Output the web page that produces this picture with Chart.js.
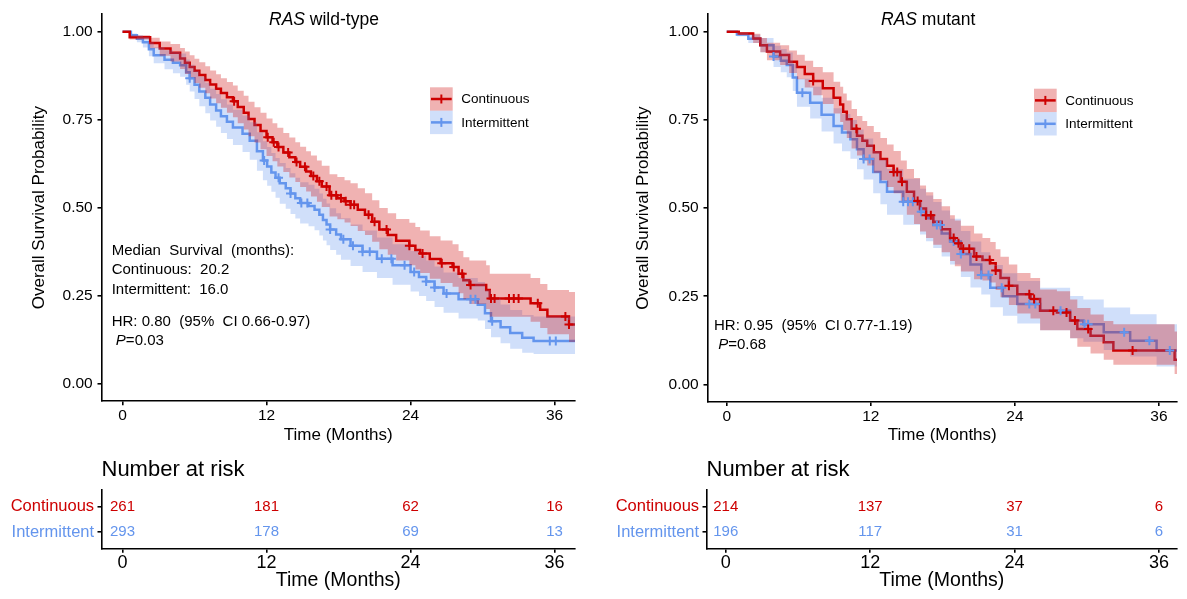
<!DOCTYPE html>
<html>
<head>
<meta charset="utf-8">
<script src="https://cdn.jsdelivr.net/npm/chart.js@4.4.1/dist/chart.umd.min.js"></script>
<style>
  body { margin: 0; background: #fff; }
  #wrap { position: relative; width: 1187px; height: 599px; }
  #wrap canvas { position: absolute; left: 0; top: 0; }
</style>
</head>
<body>
<div id="wrap">
  <canvas id="kmWild" width="1187" height="599"></canvas>
  <canvas id="kmMut" width="1187" height="599"></canvas>
  <canvas id="riskWild" width="1187" height="599"></canvas>
  <canvas id="riskMut" width="1187" height="599"></canvas>
</div>
<script>
const RED = '#CD0000';
const BLUE = '#6495ED';
const RED_BAND = 'rgba(205,0,0,0.3)';
const BLUE_BAND = 'rgba(100,149,237,0.3)';
const FONT = "'Liberation Sans', Arial, Helvetica, sans-serif";

const groups = ['Continuous', 'Intermittent'];
const timeTicks = [0, 12, 24, 36];
const survTicks = [0, 0.25, 0.5, 0.75, 1];
const survTickLabels = ['0.00', '0.25', '0.50', '0.75', '1.00'];
const riskTimes = [0, 12, 24, 36];

// ---- RAS wild-type, Continuous
const wtContTime  = [0, 0.6, 2.3, 3.1, 4.0, 4.8, 5.2, 5.6, 6.0, 6.4, 6.9, 7.3, 7.8, 8.2, 8.7, 9.2, 9.6, 10.1, 10.5, 11.0, 11.5, 12.0, 12.5, 12.9, 13.4, 13.9, 14.4, 14.8, 15.3, 15.7, 16.2, 16.6, 17.25, 17.9, 18.5, 19.0, 19.6, 20.2, 20.8, 21.4, 22.1, 22.8, 23.9, 24.4, 24.8, 25.6, 26.5, 27.5, 28.0, 28.4, 28.9, 30.3, 30.6, 34.0, 34.8, 35.4, 37.2, 37.7];
const wtContSurv  = [1.000, 0.984, 0.968, 0.952, 0.940, 0.924, 0.912, 0.900, 0.889, 0.877, 0.863, 0.850, 0.838, 0.826, 0.814, 0.802, 0.786, 0.770, 0.752, 0.735, 0.718, 0.700, 0.686, 0.672, 0.657, 0.643, 0.630, 0.616, 0.603, 0.590, 0.575, 0.560, 0.535, 0.527, 0.518, 0.508, 0.494, 0.480, 0.460, 0.438, 0.422, 0.406, 0.392, 0.380, 0.370, 0.354, 0.342, 0.331, 0.312, 0.294, 0.280, 0.266, 0.242, 0.228, 0.210, 0.191, 0.168, 0.168];
const wtContUpper = [1.000, 0.990, 0.983, 0.972, 0.965, 0.954, 0.944, 0.933, 0.923, 0.913, 0.902, 0.890, 0.879, 0.868, 0.857, 0.847, 0.832, 0.818, 0.801, 0.785, 0.770, 0.753, 0.740, 0.727, 0.712, 0.699, 0.686, 0.673, 0.660, 0.648, 0.634, 0.619, 0.595, 0.587, 0.578, 0.569, 0.555, 0.541, 0.521, 0.499, 0.484, 0.468, 0.457, 0.445, 0.435, 0.419, 0.407, 0.396, 0.377, 0.359, 0.350, 0.336, 0.312, 0.300, 0.283, 0.266, 0.260, 0.260];
const wtContLower = [1.000, 0.978, 0.953, 0.932, 0.915, 0.894, 0.880, 0.867, 0.854, 0.841, 0.825, 0.810, 0.797, 0.784, 0.770, 0.757, 0.740, 0.722, 0.703, 0.685, 0.666, 0.647, 0.632, 0.617, 0.601, 0.586, 0.573, 0.559, 0.546, 0.532, 0.517, 0.502, 0.475, 0.467, 0.458, 0.448, 0.434, 0.422, 0.403, 0.382, 0.366, 0.350, 0.336, 0.324, 0.314, 0.298, 0.286, 0.275, 0.257, 0.240, 0.226, 0.212, 0.190, 0.176, 0.158, 0.140, 0.118, 0.118];
const wtContCensor = [9.3, 12.1, 12.6, 13.0, 13.8, 14.5, 15.2, 15.9, 16.4, 17.0, 17.4, 17.8, 18.2, 18.6, 19.0, 19.3, 20.5, 21.0, 22.0, 23.9, 25.0, 26.6, 27.6, 28.3, 29.0, 30.7, 31.0, 32.2, 32.6, 33.0, 34.6, 36.9, 37.2];

// ---- RAS wild-type, Intermittent
const wtIntTime  = [0, 0.7, 1.2, 1.7, 2.2, 2.6, 3.5, 4.2, 4.8, 5.3, 5.6, 6.0, 6.4, 6.9, 7.3, 7.8, 8.2, 8.7, 9.2, 10.0, 10.6, 11.2, 11.7, 12.05, 12.4, 12.75, 13.1, 13.6, 14.0, 14.4, 14.8, 15.5, 16.0, 16.4, 16.7, 17.0, 17.3, 17.8, 18.2, 19.0, 20.0, 21.2, 22.5, 24.0, 24.7, 25.3, 26.0, 26.75, 28.0, 29.6, 30.2, 30.7, 31.5, 32.3, 33.3, 34.25, 37.7];
const wtIntSurv  = [1.000, 0.990, 0.980, 0.970, 0.950, 0.933, 0.920, 0.912, 0.905, 0.885, 0.868, 0.849, 0.830, 0.812, 0.793, 0.776, 0.760, 0.744, 0.728, 0.710, 0.690, 0.660, 0.634, 0.617, 0.600, 0.585, 0.569, 0.555, 0.540, 0.527, 0.513, 0.505, 0.494, 0.480, 0.465, 0.452, 0.438, 0.424, 0.410, 0.392, 0.375, 0.355, 0.336, 0.317, 0.303, 0.290, 0.273, 0.256, 0.240, 0.224, 0.200, 0.177, 0.160, 0.144, 0.130, 0.121, 0.121];
const wtIntUpper = [1.000, 0.995, 0.990, 0.985, 0.970, 0.956, 0.947, 0.942, 0.938, 0.921, 0.906, 0.889, 0.872, 0.855, 0.838, 0.823, 0.808, 0.793, 0.778, 0.762, 0.743, 0.714, 0.689, 0.672, 0.655, 0.641, 0.627, 0.613, 0.598, 0.585, 0.572, 0.565, 0.554, 0.540, 0.525, 0.512, 0.498, 0.484, 0.470, 0.452, 0.435, 0.415, 0.396, 0.377, 0.363, 0.350, 0.333, 0.316, 0.300, 0.289, 0.265, 0.242, 0.225, 0.209, 0.195, 0.191, 0.191];
const wtIntLower = [1.000, 0.985, 0.970, 0.955, 0.930, 0.910, 0.893, 0.882, 0.872, 0.849, 0.830, 0.809, 0.788, 0.768, 0.748, 0.730, 0.712, 0.695, 0.678, 0.658, 0.636, 0.605, 0.578, 0.562, 0.545, 0.528, 0.511, 0.497, 0.482, 0.469, 0.455, 0.447, 0.436, 0.421, 0.407, 0.393, 0.380, 0.366, 0.352, 0.334, 0.317, 0.300, 0.281, 0.262, 0.249, 0.235, 0.218, 0.201, 0.185, 0.179, 0.155, 0.132, 0.115, 0.099, 0.088, 0.084, 0.084];
const wtIntCensor = [5.6, 11.8, 13.0, 14.0, 14.9, 15.4, 17.3, 18.4, 19.2, 20.0, 20.6, 21.6, 22.4, 23.5, 24.3, 25.3, 26.0, 27.0, 29.0, 29.4, 30.8, 35.6, 36.1];

// ---- RAS mutant, Continuous
const mtContTime  = [0, 1.0, 2.2, 2.8, 3.35, 4.45, 5.2, 5.85, 6.5, 7.2, 8.0, 8.9, 9.45, 9.7, 10.0, 10.4, 10.85, 11.3, 11.7, 12.25, 12.8, 13.35, 13.9, 14.5, 15.0, 15.6, 16.1, 16.6, 17.2, 17.9, 18.6, 19.0, 19.5, 20.6, 21.3, 21.95, 22.4, 22.8, 23.5, 24.2, 25.3, 26.1, 27.5, 28.6, 29.2, 30.3, 31.4, 32.2, 37.3, 37.5];
const mtContSurv  = [1.000, 0.995, 0.981, 0.962, 0.944, 0.934, 0.915, 0.900, 0.880, 0.860, 0.840, 0.813, 0.794, 0.773, 0.752, 0.725, 0.705, 0.691, 0.677, 0.658, 0.639, 0.620, 0.602, 0.575, 0.546, 0.520, 0.499, 0.480, 0.461, 0.440, 0.415, 0.400, 0.385, 0.363, 0.353, 0.344, 0.323, 0.302, 0.280, 0.256, 0.242, 0.209, 0.204, 0.181, 0.157, 0.138, 0.120, 0.096, 0.070, 0.070];
const mtContUpper = [1.000, 0.999, 0.994, 0.982, 0.969, 0.962, 0.947, 0.935, 0.918, 0.900, 0.885, 0.858, 0.844, 0.825, 0.805, 0.781, 0.761, 0.747, 0.733, 0.716, 0.699, 0.680, 0.662, 0.635, 0.611, 0.585, 0.564, 0.545, 0.526, 0.505, 0.480, 0.465, 0.450, 0.428, 0.415, 0.404, 0.383, 0.362, 0.340, 0.316, 0.302, 0.269, 0.264, 0.241, 0.217, 0.198, 0.180, 0.171, 0.150, 0.150];
const mtContLower = [1.000, 0.991, 0.968, 0.942, 0.919, 0.906, 0.883, 0.865, 0.842, 0.820, 0.795, 0.768, 0.744, 0.721, 0.699, 0.669, 0.649, 0.635, 0.621, 0.600, 0.579, 0.560, 0.542, 0.515, 0.481, 0.455, 0.434, 0.415, 0.396, 0.375, 0.350, 0.335, 0.320, 0.298, 0.295, 0.289, 0.268, 0.247, 0.225, 0.201, 0.187, 0.154, 0.154, 0.131, 0.107, 0.088, 0.070, 0.056, 0.030, 0.030];
const mtContCensor = [7.2, 10.8, 13.9, 14.2, 14.6, 15.9, 16.6, 17.0, 18.9, 19.3, 19.7, 20.2, 20.8, 21.9, 22.4, 23.5, 25.2, 25.6, 27.2, 28.3, 29.0, 30.1, 33.8];

// ---- RAS mutant, Intermittent
const mtIntTime  = [0, 0.85, 1.8, 2.8, 3.9, 4.5, 5.0, 5.5, 5.85, 6.95, 7.9, 8.9, 9.6, 10.3, 10.85, 11.4, 12.2, 12.8, 13.35, 14.7, 16.1, 16.6, 17.2, 17.9, 18.6, 19.5, 20.3, 21.2, 21.95, 23.0, 24.2, 26.1, 28.6, 29.7, 31.4, 33.6, 35.8, 37.5];
const mtIntSurv  = [1.000, 0.992, 0.980, 0.962, 0.930, 0.918, 0.906, 0.870, 0.827, 0.799, 0.765, 0.733, 0.714, 0.695, 0.667, 0.639, 0.602, 0.574, 0.546, 0.518, 0.490, 0.471, 0.452, 0.428, 0.405, 0.370, 0.340, 0.310, 0.274, 0.250, 0.228, 0.209, 0.181, 0.171, 0.148, 0.124, 0.096, 0.096];
const mtIntUpper = [1.000, 0.997, 0.992, 0.982, 0.960, 0.951, 0.941, 0.908, 0.867, 0.844, 0.813, 0.783, 0.767, 0.750, 0.723, 0.697, 0.662, 0.637, 0.611, 0.583, 0.555, 0.536, 0.517, 0.493, 0.470, 0.435, 0.405, 0.375, 0.339, 0.315, 0.293, 0.274, 0.251, 0.241, 0.218, 0.199, 0.171, 0.171];
const mtIntLower = [1.000, 0.987, 0.968, 0.942, 0.900, 0.885, 0.871, 0.832, 0.787, 0.754, 0.717, 0.683, 0.661, 0.640, 0.610, 0.581, 0.542, 0.511, 0.481, 0.453, 0.425, 0.406, 0.387, 0.363, 0.340, 0.305, 0.275, 0.255, 0.219, 0.195, 0.173, 0.154, 0.131, 0.121, 0.098, 0.079, 0.051, 0.051];
const mtIntCensor = [3.9, 6.3, 11.4, 11.9, 14.7, 15.1, 15.5, 16.2, 17.5, 17.8, 18.9, 19.5, 21.2, 21.8, 22.9, 25.2, 25.7, 27.8, 29.8, 30.1, 33.1, 35.2, 36.9];

// ---- Number at risk
const wtRiskCont = [261, 181, 62, 16];
const wtRiskInt  = [293, 178, 69, 13];
const mtRiskCont = [214, 137, 37, 6];
const mtRiskInt  = [196, 117, 31, 6];

function pts(xs, ys) { return xs.map((x, i) => ({ x: x, y: ys[i] })); }
function survAt(xs, ys, t) {
  let v = ys[0];
  for (let i = 0; i < xs.length; i++) if (xs[i] <= t) v = ys[i];
  return v;
}
function censorPts(times, xs, ys) { return times.map(t => ({ x: t, y: survAt(xs, ys, t) })); }

function font(size, italic) { return (italic ? 'italic ' : '') + size + 'px ' + FONT; }
function drawRuns(ctx, runs, x, y, size) {
  runs.forEach(r => {
    ctx.font = font(size, r.it);
    ctx.fillText(r.t, x, y);
    x += ctx.measureText(r.t).width;
  });
}

function axisCommon(min, max, tickVals, labels, tickFont, tickPad) {
  return {
    type: 'linear', min: min, max: max,
    afterBuildTicks: s => { s.ticks = tickVals.map(v => ({ value: v })); },
    ticks: {
      autoSkip: false, maxRotation: 0, padding: tickPad, color: '#000',
      font: { family: FONT, size: tickFont },
      callback: (v) => labels[tickVals.indexOf(v)]
    },
    grid: { drawOnChartArea: false, drawTicks: true, tickLength: 4, color: '#000', lineWidth: 1.6 },
    border: { display: true, color: '#000', width: 1.6 }
  };
}

function kmChart(id, p) {
  const c = p.cont, q = p.inter;
  const line = (data, color) => ({ data: data, borderColor: color, borderWidth: 2.5, stepped: true, pointRadius: 0, fill: false, order: 3 });
  const band = (data, color, fill) => ({ data: data, borderColor: 'rgba(0,0,0,0)', borderWidth: 0, backgroundColor: color, stepped: true, pointRadius: 0, fill: fill, order: 2 });
  const cens = (data, color) => ({ data: data, showLine: false, pointStyle: 'cross', pointRadius: 4.5, pointBorderWidth: 2, borderColor: color, backgroundColor: color, order: 1 });

  const decor = {
    id: 'decor',
    afterDraw(chart) {
      const ctx = chart.ctx;
      ctx.save();
      ctx.fillStyle = '#000';
      ctx.textAlign = 'left';
      ctx.textBaseline = 'alphabetic';
      drawRuns(ctx, [{ t: 'RAS', it: true }, { t: p.titleRest }], p.titleX, 25, 17.5);
      ctx.textBaseline = 'middle';
      p.notes.forEach(n => drawRuns(ctx, n.runs, p.noteX, n.y, 15));
      // legend keys
      [[RED, RED_BAND], [BLUE, BLUE_BAND]].forEach((k, i) => {
        const x0 = p.legX, y0 = p.legY + i * 23.4, w = 22.7, h = 23.4;
        const yc = y0 + h / 2, xc = x0 + w / 2;
        ctx.fillStyle = k[1];
        ctx.fillRect(x0, y0, w, h);
        ctx.strokeStyle = k[0];
        ctx.lineWidth = 2.5;
        ctx.beginPath(); ctx.moveTo(x0 + 1, yc); ctx.lineTo(x0 + w - 1, yc); ctx.stroke();
        ctx.lineWidth = 2;
        ctx.beginPath(); ctx.moveTo(xc, yc - 4.5); ctx.lineTo(xc, yc + 4.5); ctx.stroke();
        ctx.fillStyle = '#000';
        ctx.font = font(13.5);
        ctx.fillText(groups[i], x0 + w + 8.5, yc + 0.5);
      });
      ctx.restore();
    }
  };

  const x = axisCommon(p.xMin, p.xMax, timeTicks, timeTicks.map(String), 15.5, 1.3);
  x.title = { display: true, text: 'Time (Months)', color: '#000', font: { family: FONT, size: 17 }, padding: { top: 0, bottom: 6.8 } };
  x.afterFit = s => { s.height = p.xHeight; };
  const y = axisCommon(-0.05, 1.05, survTicks, survTickLabels, 15.5, 4.8);
  y.title = { display: true, text: 'Overall Survival Probability', color: '#000', font: { family: FONT, size: 17 }, padding: { top: p.yTitlePad, bottom: 0 } };
  y.afterFit = s => { s.width = p.yWidth; };

  return new Chart(document.getElementById(id), {
    type: 'line',
    data: {
      datasets: [
        line(pts(c.time, c.surv), RED),
        line(pts(q.time, q.surv), BLUE),
        band(pts(c.time, c.upper), RED_BAND, '+1'),
        band(pts(c.time, c.lower), RED_BAND, false),
        band(pts(q.time, q.upper), BLUE_BAND, '+1'),
        band(pts(q.time, q.lower), BLUE_BAND, false),
        cens(censorPts(c.censor, c.time, c.surv), RED),
        cens(censorPts(q.censor, q.time, q.surv), BLUE)
      ]
    },
    options: {
      responsive: false, animation: false, devicePixelRatio: 1,
      layout: { padding: p.pad },
      plugins: { legend: { display: false }, tooltip: { enabled: false } },
      scales: { x: x, y: y }
    },
    plugins: [decor]
  });
}

function riskChart(id, p) {
  const decor = {
    id: 'riskDecor',
    afterDraw(chart) {
      const ctx = chart.ctx, sx = chart.scales.x, sy = chart.scales.y;
      ctx.save();
      ctx.textBaseline = 'middle';
      ctx.textAlign = 'left';
      ctx.fillStyle = '#000';
      ctx.font = font(22);
      ctx.fillText('Number at risk', chart.chartArea.left, 470);
      ctx.textAlign = 'center';
      ctx.font = font(15);
      [[p.cont, 2, RED], [p.inter, 1, BLUE]].forEach(r => {
        ctx.fillStyle = r[2];
        riskTimes.forEach((t, i) => ctx.fillText(String(r[0][i]), sx.getPixelForValue(t), sy.getPixelForValue(r[1])));
      });
      ctx.restore();
    }
  };
  const x = axisCommon(p.xMin, p.xMax, timeTicks, timeTicks.map(String), 18, 0);
  x.title = { display: true, text: 'Time (Months)', color: '#000', font: { family: FONT, size: 19.5 }, padding: { top: 0, bottom: 6.3 } };
  x.afterFit = s => { s.height = 50.3; };
  const y = axisCommon(0.35, 2.65, [1, 2], [groups[1], groups[0]], 16.5, 3.4);
  y.ticks.color = (ctx) => (ctx.tick && ctx.tick.value === 2) ? RED : BLUE;
  y.afterFit = s => { s.width = p.yWidth; };
  return new Chart(document.getElementById(id), {
    type: 'line',
    data: { datasets: [{ data: [] }] },
    options: {
      responsive: false, animation: false, devicePixelRatio: 1,
      layout: { padding: p.pad },
      plugins: { legend: { display: false }, tooltip: { enabled: false } },
      scales: { x: x, y: y }
    },
    plugins: [decor]
  });
}

kmChart('kmWild', {
  cont: { time: wtContTime, surv: wtContSurv, upper: wtContUpper, lower: wtContLower, censor: wtContCensor },
  inter: { time: wtIntTime, surv: wtIntSurv, upper: wtIntUpper, lower: wtIntLower, censor: wtIntCensor },
  xMin: -1.75, xMax: 37.7, yWidth: 101.5, xHeight: 50.8, yTitlePad: 28.8,
  pad: { left: 0, right: 612, top: 8.1, bottom: 147 },
  titleX: 269, titleRest: ' wild-type',
  legX: 430, legY: 87.3,
  noteX: 111.7,
  notes: [
    { y: 251, runs: [{ t: 'Median  Survival  (months):' }] },
    { y: 270, runs: [{ t: 'Continuous:  20.2' }] },
    { y: 289.5, runs: [{ t: 'Intermittent:  16.0' }] },
    { y: 322.3, runs: [{ t: 'HR: 0.80  (95%  CI 0.66-0.97)' }] },
    { y: 341, runs: [{ t: ' ' }, { t: 'P', it: true }, { t: '=0.03' }] }
  ]
});

kmChart('kmMut', {
  cont: { time: mtContTime, surv: mtContSurv, upper: mtContUpper, lower: mtContLower, censor: mtContCensor },
  inter: { time: mtIntTime, surv: mtIntSurv, upper: mtIntUpper, lower: mtIntLower, censor: mtIntCensor },
  xMin: -1.6, xMax: 37.5, yWidth: 102.5, xHeight: 50, yTitlePad: 27.8,
  pad: { left: 605, right: 10, top: 10.5, bottom: 146.9 },
  titleX: 881, titleRest: ' mutant',
  legX: 1034, legY: 88.7,
  noteX: 714,
  notes: [
    { y: 326, runs: [{ t: 'HR: 0.95  (95%  CI 0.77-1.19)' }] },
    { y: 345, runs: [{ t: ' ' }, { t: 'P', it: true }, { t: '=0.68' }] }
  ]
});

riskChart('riskWild', {
  cont: wtRiskCont, inter: wtRiskInt,
  xMin: -1.75, xMax: 37.7, yWidth: 101.5,
  pad: { left: 0, right: 612, top: 490, bottom: 0 }
});

riskChart('riskMut', {
  cont: mtRiskCont, inter: mtRiskInt,
  xMin: -1.6, xMax: 37.5, yWidth: 101.5,
  pad: { left: 605, right: 10, top: 490, bottom: 0 }
});
</script>
</body>
</html>
